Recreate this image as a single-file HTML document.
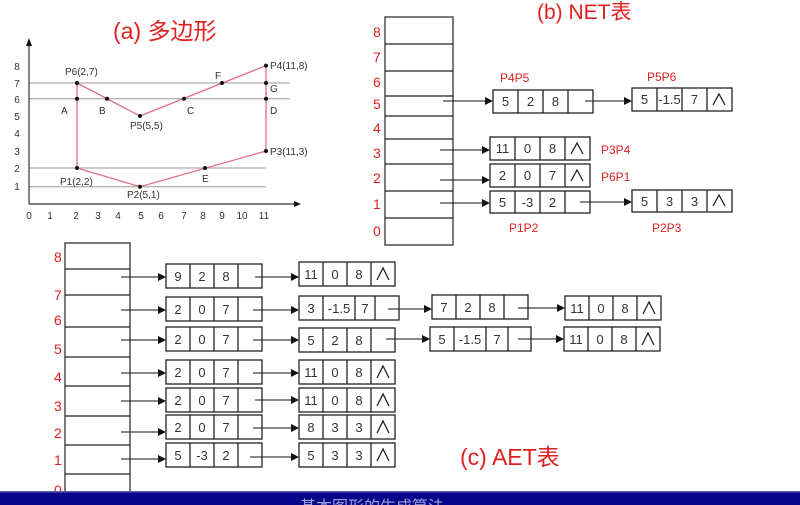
<!DOCTYPE html>
<html><head><meta charset="utf-8"><style>
html,body{margin:0;padding:0;background:#fff;width:800px;height:505px;overflow:hidden}
svg{display:block;font-family:"Liberation Sans","Noto Sans CJK SC",sans-serif}
.n rect{fill:none;stroke:#222;stroke-width:1.3}
.n path{fill:none;stroke:#222;stroke-width:1.3}
.n text{font-size:13px;fill:#333;text-anchor:middle}
.r{fill:#e02020}
.ax{font-size:10px;fill:#333}
.lb{font-size:10px;fill:#333}
.car{fill:none;stroke:#222;stroke-width:1.3}
</style></head><body>
<svg width="800" height="505" viewBox="0 0 800 505">
<defs><marker id="ah" markerWidth="8" markerHeight="8" refX="7" refY="4" orient="auto" markerUnits="userSpaceOnUse"><path d="M0,0 L8,4 L0,8 z" fill="#111"/></marker></defs>

<!-- (a) -->
<text x="113" y="39" class="r" font-size="23">(a) 多边形</text>
<g stroke="#999" stroke-width="1">
<line x1="29" y1="83" x2="290" y2="83"/><line x1="29" y1="98.7" x2="290" y2="98.7"/>
<line x1="29" y1="168" x2="266" y2="168"/><line x1="29" y1="186.7" x2="266" y2="186.7"/>
</g>
<g stroke="#333" stroke-width="1.2"><line x1="29" y1="204" x2="296" y2="204"/><line x1="29" y1="204" x2="29" y2="42"/></g>
<path d="M26,46 L29,38 L32,46z" fill="#111"/><path d="M294,201 L301,204 L294,207z" fill="#111"/>
<g class="ax" text-anchor="middle">
<text x="29" y="219">0</text><text x="50" y="219">1</text><text x="76" y="219">2</text><text x="98" y="219">3</text><text x="118" y="219">4</text><text x="141" y="219">5</text><text x="161" y="219">6</text><text x="184" y="219">7</text><text x="203" y="219">8</text><text x="222" y="219">9</text><text x="242" y="219">10</text><text x="264" y="219">11</text>
<text x="17" y="70">8</text><text x="17" y="87">7</text><text x="17" y="103">6</text><text x="17" y="120">5</text><text x="17" y="137">4</text><text x="17" y="155">3</text><text x="17" y="172">2</text><text x="17" y="190">1</text>
</g>
<polygon points="77,168 140,186.7 266,151 266,65.6 140,116 77,83" fill="none" stroke="#e07080" stroke-width="1.3"/>
<g fill="#111">
<circle cx="77" cy="168" r="2"/><circle cx="140" cy="186.7" r="2"/><circle cx="266" cy="151" r="2"/><circle cx="266" cy="65.6" r="2"/><circle cx="140" cy="116" r="2"/><circle cx="77" cy="83" r="2"/>
<circle cx="77" cy="98.7" r="2"/><circle cx="107" cy="98.7" r="2"/><circle cx="184" cy="98.7" r="2"/><circle cx="222" cy="83" r="2"/><circle cx="266" cy="83" r="2"/><circle cx="266" cy="98.7" r="2"/><circle cx="205" cy="168" r="2"/>
</g>
<g class="lb">
<text x="65" y="75">P6(2,7)</text><text x="61" y="114">A</text><text x="99" y="114">B</text><text x="130" y="129">P5(5,5)</text><text x="187" y="114">C</text><text x="215" y="79">F</text>
<text x="270" y="69">P4(11,8)</text><text x="270" y="92">G</text><text x="270" y="114">D</text><text x="270" y="155">P3(11,3)</text>
<text x="60" y="185">P1(2,2)</text><text x="127" y="198">P2(5,1)</text><text x="202" y="182">E</text>
</g>

<!-- (b) -->
<text x="537" y="19" class="r" font-size="21">(b) NET表</text>
<g stroke="#222" stroke-width="1.2" fill="none">
<rect x="385" y="17" width="68" height="228"/>
<path d="M385,44H453M385,71H453M385,96H453M385,116H453M385,139H453M385,164H453M385,191H453M385,218H453"/>
</g>
<g class="r" font-size="14">
<text x="373" y="37">8</text><text x="373" y="62">7</text><text x="373" y="87">6</text><text x="373" y="109">5</text><text x="373" y="133">4</text><text x="373" y="158">3</text><text x="373" y="183">2</text><text x="373" y="209">1</text><text x="373" y="236">0</text>
<g font-size="12"><text x="500" y="82">P4P5</text><text x="647" y="81">P5P6</text><text x="601" y="154">P3P4</text><text x="601" y="181">P6P1</text><text x="509" y="232">P1P2</text><text x="652" y="232">P2P3</text></g>
</g>
<g stroke="#111" stroke-width="1.1" marker-end="url(#ah)">
<line x1="443" y1="101" x2="492" y2="101"/><line x1="585" y1="101" x2="631" y2="101"/>
<line x1="440" y1="150" x2="489" y2="150"/><line x1="440" y1="180" x2="489" y2="180"/>
<line x1="440" y1="203" x2="489" y2="203"/><line x1="580" y1="202" x2="631" y2="202"/>
</g>
<g class="n">
<rect x="493" y="90" width="100" height="23"/><path d="M518,90v23M543,90v23M568,90v23"/><text x="505.5" y="106">5</text><text x="530.5" y="106">2</text><text x="555.5" y="106">8</text>
<rect x="632" y="88" width="100" height="23"/><path d="M657,88v23M682,88v23M707,88v23"/><text x="644.5" y="104">5</text><text x="669.5" y="104">-1.5</text><text x="694.5" y="104">7</text>
<rect x="490" y="137" width="100" height="23"/><path d="M515,137v23M540,137v23M565,137v23"/><text x="502.5" y="153">11</text><text x="527.5" y="153">0</text><text x="552.5" y="153">8</text>
<rect x="490" y="164" width="100" height="23"/><path d="M515,164v23M540,164v23M565,164v23"/><text x="502.5" y="180">2</text><text x="527.5" y="180">0</text><text x="552.5" y="180">7</text>
<rect x="490" y="191" width="100" height="22"/><path d="M515,191v22M540,191v22M565,191v22"/><text x="502.5" y="207">5</text><text x="527.5" y="207">-3</text><text x="552.5" y="207">2</text>
<rect x="632" y="190" width="100" height="22"/><path d="M657,190v22M682,190v22M707,190v22"/><text x="644.5" y="206">5</text><text x="669.5" y="206">3</text><text x="694.5" y="206">3</text>
</g>
<g class="car">
<path d="M713,105l6,-11l6,11"/><path d="M571,154l6,-11l6,11"/><path d="M571,181l6,-11l6,11"/><path d="M713,206l6,-11l6,11"/>
</g>

<!-- (c) -->
<g stroke="#222" stroke-width="1.2" fill="none">
<rect x="65" y="243" width="65" height="262"/>
<path d="M65,269H130M65,295H130M65,327H130M65,357H130M65,386H130M65,416H130M65,445H130M65,474H130"/>
</g>
<g class="r" font-size="14">
<text x="54" y="262">8</text><text x="54" y="300">7</text><text x="54" y="325">6</text><text x="54" y="354">5</text><text x="54" y="382">4</text><text x="54" y="411">3</text><text x="54" y="438">2</text><text x="54" y="465">1</text><text x="54" y="495">0</text>
</g>
<text x="460" y="465" class="r" font-size="23">(c) AET表</text>
<g stroke="#111" stroke-width="1.1" marker-end="url(#ah)">
<line x1="121" y1="277" x2="165" y2="277"/><line x1="255" y1="277" x2="298" y2="277"/>
<line x1="121" y1="310" x2="165" y2="310"/><line x1="253" y1="310" x2="298" y2="310"/><line x1="388" y1="309" x2="431" y2="309"/><line x1="518" y1="308" x2="564" y2="308"/>
<line x1="121" y1="340" x2="165" y2="340"/><line x1="253" y1="340" x2="298" y2="340"/><line x1="386" y1="339" x2="429" y2="339"/><line x1="518" y1="339" x2="563" y2="339"/>
<line x1="121" y1="373" x2="165" y2="373"/><line x1="253" y1="373" x2="298" y2="373"/>
<line x1="121" y1="401" x2="165" y2="401"/><line x1="255" y1="400" x2="298" y2="400"/>
<line x1="121" y1="432" x2="165" y2="432"/><line x1="253" y1="428" x2="298" y2="428"/>
<line x1="121" y1="459" x2="165" y2="459"/><line x1="250" y1="457" x2="298" y2="457"/>
</g>
<g class="n">
<!-- r1 -->
<rect x="166" y="264" width="96" height="24"/><path d="M190,264v24M214,264v24M238,264v24"/><text x="178" y="281">9</text><text x="202" y="281">2</text><text x="226" y="281">8</text>
<rect x="299" y="262" width="96" height="24"/><path d="M323,262v24M347,262v24M371,262v24"/><text x="311" y="279">11</text><text x="335" y="279">0</text><text x="359" y="279">8</text>
<!-- r2 -->
<rect x="166" y="297" width="96" height="24"/><path d="M190,297v24M214,297v24M238,297v24"/><text x="178" y="314">2</text><text x="202" y="314">0</text><text x="226" y="314">7</text>
<rect x="299" y="296" width="100" height="24"/><path d="M323,296v24M355,296v24M375,296v24"/><text x="311" y="313">3</text><text x="339" y="313">-1.5</text><text x="365" y="313">7</text>
<rect x="432" y="295" width="96" height="24"/><path d="M456,295v24M480,295v24M504,295v24"/><text x="444" y="312">7</text><text x="468" y="312">2</text><text x="492" y="312">8</text>
<rect x="565" y="296" width="96" height="24"/><path d="M589,296v24M613,296v24M637,296v24"/><text x="577" y="313">11</text><text x="601" y="313">0</text><text x="625" y="313">8</text>
<!-- r3 -->
<rect x="166" y="327" width="96" height="24"/><path d="M190,327v24M214,327v24M238,327v24"/><text x="178" y="344">2</text><text x="202" y="344">0</text><text x="226" y="344">7</text>
<rect x="299" y="328" width="96" height="24"/><path d="M323,328v24M347,328v24M371,328v24"/><text x="311" y="345">5</text><text x="335" y="345">2</text><text x="359" y="345">8</text>
<rect x="430" y="327" width="101" height="24"/><path d="M454,327v24M486,327v24M508,327v24"/><text x="442" y="344">5</text><text x="470" y="344">-1.5</text><text x="497" y="344">7</text>
<rect x="564" y="327" width="96" height="24"/><path d="M588,327v24M612,327v24M636,327v24"/><text x="576" y="344">11</text><text x="600" y="344">0</text><text x="624" y="344">8</text>
<!-- r4 -->
<rect x="166" y="360" width="96" height="24"/><path d="M190,360v24M214,360v24M238,360v24"/><text x="178" y="377">2</text><text x="202" y="377">0</text><text x="226" y="377">7</text>
<rect x="299" y="360" width="96" height="24"/><path d="M323,360v24M347,360v24M371,360v24"/><text x="311" y="377">11</text><text x="335" y="377">0</text><text x="359" y="377">8</text>
<!-- r5 -->
<rect x="166" y="388" width="96" height="24"/><path d="M190,388v24M214,388v24M238,388v24"/><text x="178" y="405">2</text><text x="202" y="405">0</text><text x="226" y="405">7</text>
<rect x="299" y="388" width="96" height="24"/><path d="M323,388v24M347,388v24M371,388v24"/><text x="311" y="405">11</text><text x="335" y="405">0</text><text x="359" y="405">8</text>
<!-- r6 -->
<rect x="166" y="415" width="96" height="24"/><path d="M190,415v24M214,415v24M238,415v24"/><text x="178" y="432">2</text><text x="202" y="432">0</text><text x="226" y="432">7</text>
<rect x="299" y="415" width="96" height="24"/><path d="M323,415v24M347,415v24M371,415v24"/><text x="311" y="432">8</text><text x="335" y="432">3</text><text x="359" y="432">3</text>
<!-- r7 -->
<rect x="166" y="443" width="96" height="24"/><path d="M190,443v24M214,443v24M238,443v24"/><text x="178" y="460">5</text><text x="202" y="460">-3</text><text x="226" y="460">2</text>
<rect x="299" y="443" width="96" height="24"/><path d="M323,443v24M347,443v24M371,443v24"/><text x="311" y="460">5</text><text x="335" y="460">3</text><text x="359" y="460">3</text>
</g>
<g class="car">
<path d="M377,280l6,-12l6,12"/><path d="M643,314l6,-12l6,12"/><path d="M642,345l6,-12l6,12"/>
<path d="M377,378l6,-12l6,12"/><path d="M377,406l6,-12l6,12"/><path d="M377,433l6,-12l6,12"/><path d="M377,461l6,-12l6,12"/>
</g>

<!-- bottom bar -->
<rect x="0" y="491" width="800" height="14" fill="#06068a"/>
<rect x="0" y="491" width="800" height="1.5" fill="#5a5ab8"/>
<text x="300" y="512" font-size="16" fill="#9aa0d8">基本图形的生成算法</text>
</svg>
</body></html>
